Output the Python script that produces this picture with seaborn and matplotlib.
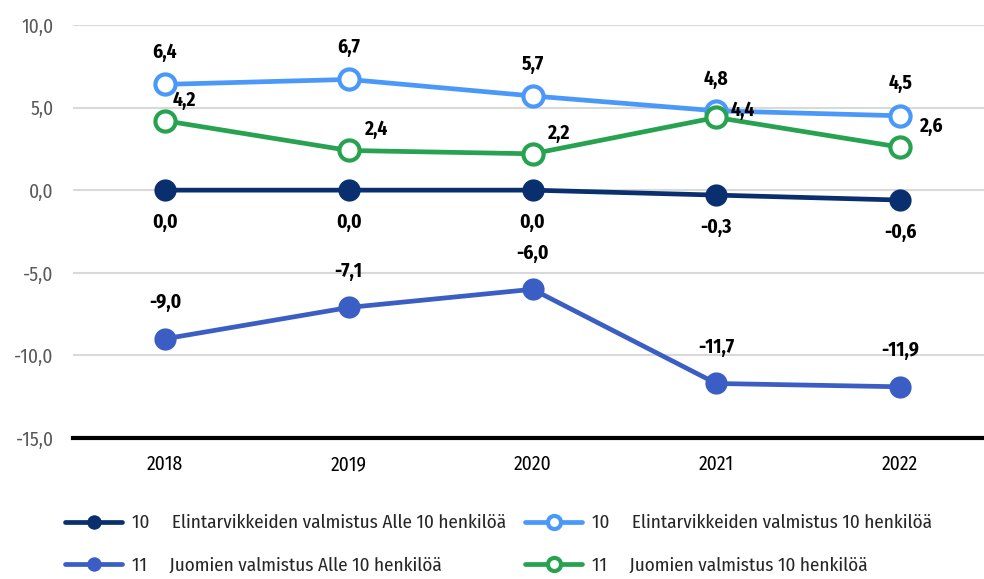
import pandas as pd
import matplotlib.pyplot as plt
import seaborn as sb
from matplotlib.ticker import FuncFormatter

# data
vuodet = ["2018", "2019", "2020", "2021", "2022"]
elint_alle10 = [0.0, 0.0, 0.0, -0.3, -0.6]
elint_10 = [6.4, 6.7, 5.7, 4.8, 4.5]
juomat_alle10 = [-9.0, -7.1, -6.0, -11.7, -11.9]
juomat_10 = [4.2, 2.4, 2.2, 4.4, 2.6]

nimet = ["10     Elintarvikkeiden valmistus Alle 10 henkilöä",
         "10     Elintarvikkeiden valmistus 10 henkilöä",
         "11     Juomien valmistus Alle 10 henkilöä",
         "11     Juomien valmistus 10 henkilöä"]
varit = ["#0A2F6E", "#4A98FA", "#3A5EC4", "#27A251"]
ontot = [False, True, False, True]
# label offsets (points)
siirrot = [[(0, -23)] * 5,
           [(0, 23)] * 5,
           [(0, 26)] * 5,
           [(14, 15), (20, 15), (19, 15), (19, 5), (23, 15)]]

sarjat = [elint_alle10, elint_10, juomat_alle10, juomat_10]

sb.set_style("white")
plt.rcParams["font.family"] = ["Fira Sans Condensed", "DejaVu Sans"]

fig = plt.figure(figsize=(9.84, 5.79), dpi=100)
ax = fig.add_axes([0.0742, 0.2435, 0.934, 0.7135])

for i in range(4):
    df = pd.DataFrame({"vuosi": vuodet, "arvo": sarjat[i]})
    sb.lineplot(data=df, x="vuosi", y="arvo", ax=ax, color=varit[i], lw=3.4,
                marker="o", markersize=14.5 if ontot[i] else 16,
                markerfacecolor="white" if ontot[i] else varit[i],
                markeredgecolor=varit[i], markeredgewidth=3.0 if ontot[i] else 0,
                label=nimet[i], zorder=3)
    for j, v in enumerate(sarjat[i]):
        dx, dy = siirrot[i][j]
        ax.annotate(f"{v:.1f}".replace(".", ","), (j, v), xytext=(dx, dy),
                    textcoords="offset points", ha="center", va="center",
                    fontsize=14, fontweight="bold", color="black", zorder=4)

ax.set_xlim(-0.5, 4.5)
ax.set_ylim(-15, 10)
ax.set_yticks([-15, -10, -5, 0, 5, 10])
ax.yaxis.set_major_formatter(FuncFormatter(lambda v, p: f"{v:.1f}".replace(".", ",")))
ax.grid(axis="y", color="#D9D9D9", lw=1.5)
ax.set_axisbelow(True)
for s in ["top", "right", "left"]:
    ax.spines[s].set_visible(False)
ax.spines["bottom"].set_color("black")
ax.spines["bottom"].set_linewidth(3)
ax.tick_params(axis="y", length=0, labelsize=14, labelcolor="#595959", pad=14)
ax.tick_params(axis="x", length=0, labelsize=14, labelcolor="black", pad=12)
ax.set_xlabel("")
ax.set_ylabel("")

h, l = ax.get_legend_handles_labels()
ax.get_legend().remove()
jarj = [0, 2, 1, 3]
fig.legend([h[k] for k in jarj], [l[k] for k in jarj], loc="upper left",
           bbox_to_anchor=(0.066, 0.112), ncol=2, frameon=False,
           fontsize=13.75, handlelength=3.0, handletextpad=0.5, columnspacing=1.0,
           labelspacing=1.3, markerscale=0.65, borderpad=0, borderaxespad=0)

plt.savefig("out.png", dpi=100)
